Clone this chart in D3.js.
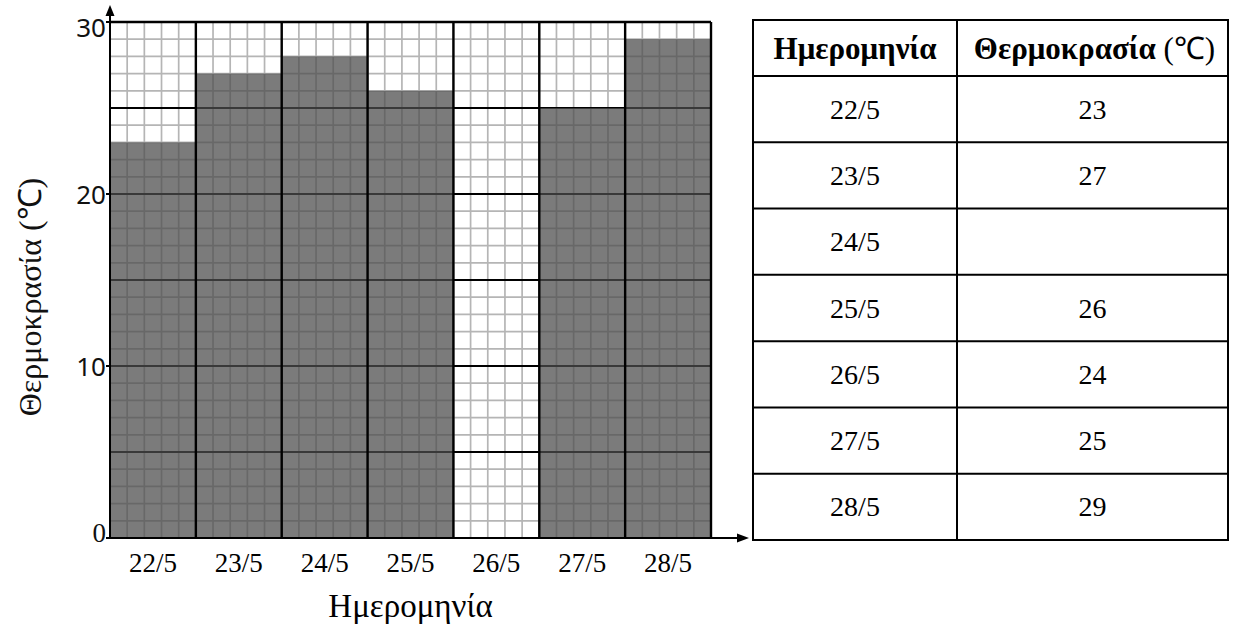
<!DOCTYPE html>
<html><head><meta charset="utf-8">
<script src="https://cdn.jsdelivr.net/npm/d3@7"></script>
<style>body{margin:0;background:#fff}svg{display:block}</style>
</head><body>
<svg id="c" width="1243" height="625"></svg>
<script>
const dates = ["22/5","23/5","24/5","25/5","26/5","27/5","28/5"];
const chartTemps = [23,27,28,26,null,25,29];
const tableTemps = ["23","27","","26","24","25","29"];
const yTicks = [0,10,20,30];
const yTitle = "Θερμοκρασία (℃)";
const xTitle = "Ημερομηνία";
const headDate = "Ημερομηνία";
const headTemp = "Θερμοκρασία";
const headUnit = " (℃)";

const svg = d3.select("#c");
const L=110,R=711,T=22,B=538;
const x = d3.scaleBand().domain(dates).range([L,R]).padding(0);
const y = d3.scaleLinear().domain([0,30]).range([B,T]);
const xm = d3.scaleLinear().domain([0,dates.length*5]).range([L,R]);
const serif = "'Liberation Serif','Times New Roman',serif";

const g = svg.append("g");
g.selectAll(".mh").data(d3.range(0,31)).join("line")
  .attr("x1",L).attr("x2",R).attr("y1",d=>y(d)).attr("y2",d=>y(d))
  .attr("stroke","#b5b5b5").attr("stroke-width",1.7);
g.selectAll(".mv").data(d3.range(0,dates.length*5+1)).join("line")
  .attr("y1",T).attr("y2",B).attr("x1",d=>xm(d)).attr("x2",d=>xm(d))
  .attr("stroke","#b5b5b5").attr("stroke-width",1.7);
g.selectAll(".Mh").data(d3.range(5,30,5)).join("line")
  .attr("x1",L).attr("x2",R).attr("y1",d=>y(d)).attr("y2",d=>y(d))
  .attr("stroke","#000").attr("stroke-width",2.2);
const barData = dates.map((d,i)=>({d, v:chartTemps[i]})).filter(o=>o.v!=null);
g.selectAll(".bar").data(barData).join("rect")
  .attr("x",o=>x(o.d)).attr("width",x.bandwidth())
  .attr("y",o=>y(o.v)).attr("height",o=>y(0)-y(o.v))
  .attr("fill","#4d4d4d").attr("fill-opacity",0.74);
g.selectAll(".Mv").data(dates.slice(1).concat(["__end"])).join("line")
  .attr("x1",d=>d==="__end"?R:x(d)).attr("x2",d=>d==="__end"?R:x(d))
  .attr("y1",T).attr("y2",B).attr("stroke","#000").attr("stroke-width",2.4);
g.append("line").attr("x1",L).attr("x2",R).attr("y1",y(30)).attr("y2",y(30))
  .attr("stroke","#000").attr("stroke-width",2.4);

g.append("line").attr("x1",L).attr("x2",L).attr("y1",B).attr("y2",10).attr("stroke","#000").attr("stroke-width",2);
g.append("path").attr("d",`M${L},5 L${L-4.5},16 L${L+4.5},16 Z`).attr("fill","#000");
g.append("line").attr("x1",L-4).attr("x2",742).attr("y1",B).attr("y2",B).attr("stroke","#000").attr("stroke-width",2);
g.append("path").attr("d",`M749,${B} L737,${B-4.5} L737,${B+4.5} Z`).attr("fill","#000");

g.selectAll(".yt").data(yTicks).join("line")
  .attr("x1",L-4).attr("x2",L).attr("y1",d=>y(d)).attr("y2",d=>y(d)).attr("stroke","#000").attr("stroke-width",2);
g.selectAll(".yl").data(yTicks).join("text")
  .attr("x",L-4).attr("y",d=>y(d)+(d===30?5:(d===0?-5:0)))
  .attr("text-anchor","end").attr("dominant-baseline","central")
  .attr("font-family",d=>d===0?serif:"'Noto Sans',sans-serif")
  .attr("font-size",d=>d===0?27:26).attr("fill","#111")
  .text(d=>d);
g.selectAll(".xl").data(dates).join("text")
  .attr("x",d=>x(d)+x.bandwidth()/2).attr("y",563)
  .attr("text-anchor","middle").attr("dominant-baseline","central")
  .attr("font-family",serif).attr("font-size",27).attr("fill","#000").text(d=>d);
svg.append("text").attr("x",(L+R)/2).attr("y",606).attr("text-anchor","middle").attr("dominant-baseline","central")
  .attr("font-family",serif).attr("font-size",33).attr("fill","#000").text(xTitle);
svg.append("text").attr("transform","translate(30,297) rotate(-90)").attr("text-anchor","middle").attr("dominant-baseline","central")
  .attr("font-family",serif).attr("font-size",32).attr("fill","#111").text(yTitle);

const TL=753, TM=957, TR=1228, TT=20, TH=76, TB=540;
const ty = d3.scaleBand().domain(dates).range([TH,TB]).padding(0);
const tg = svg.append("g");
tg.append("rect").attr("x",TL).attr("y",TT).attr("width",TR-TL).attr("height",TB-TT)
  .attr("fill","none").attr("stroke","#000").attr("stroke-width",2);
tg.append("line").attr("x1",TM).attr("x2",TM).attr("y1",TT).attr("y2",TB).attr("stroke","#000").attr("stroke-width",2);
tg.selectAll(".rl").data(dates).join("line")
  .attr("x1",TL).attr("x2",TR).attr("y1",d=>ty(d)).attr("y2",d=>ty(d)).attr("stroke","#000").attr("stroke-width",2);
tg.append("text").attr("x",(TL+TM)/2).attr("y",(TT+TH)/2).attr("text-anchor","middle").attr("dominant-baseline","central")
  .attr("font-family",serif).attr("font-weight","bold").attr("font-size",31).attr("fill","#000").text(headDate);
const ht = tg.append("text").attr("x",(TM+TR)/2+2).attr("y",(TT+TH)/2).attr("text-anchor","middle").attr("dominant-baseline","central")
  .attr("font-family",serif).attr("font-size",31).attr("fill","#000");
ht.append("tspan").attr("font-weight","bold").text(headTemp);
ht.append("tspan").text(headUnit);
tg.selectAll(".cd").data(dates).join("text")
  .attr("x",(TL+TM)/2).attr("y",d=>ty(d)+ty.bandwidth()/2).attr("text-anchor","middle").attr("dominant-baseline","central")
  .attr("font-family",serif).attr("font-size",28).attr("fill","#000").text(d=>d);
tg.selectAll(".cv").data(dates.map((d,i)=>({d,v:tableTemps[i]}))).join("text")
  .attr("x",(TM+TR)/2).attr("y",o=>ty(o.d)+ty.bandwidth()/2).attr("text-anchor","middle").attr("dominant-baseline","central")
  .attr("font-family",serif).attr("font-size",28).attr("fill","#000").text(o=>o.v);
</script>
</body></html>
